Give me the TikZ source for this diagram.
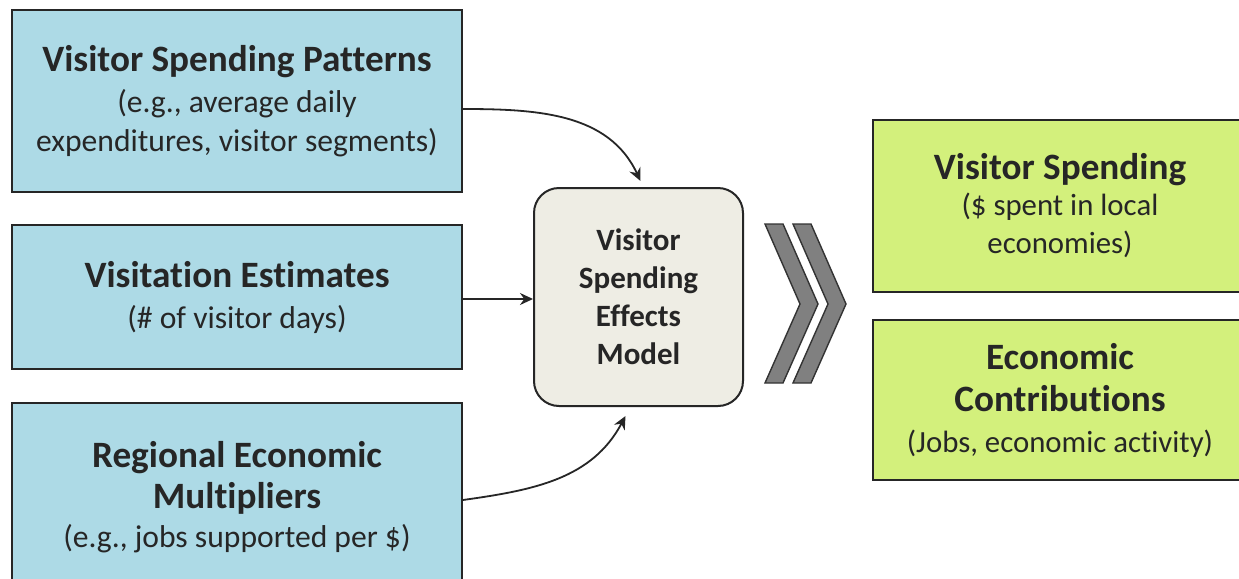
\documentclass[tikz,border=0pt]{standalone}
\usepackage{fontspec}
\setmainfont{Carlito}[Ligatures=NoCommon]
\usetikzlibrary{arrows.meta}
\definecolor{boxblue}{HTML}{ADDAE6}
\definecolor{boxgreen}{HTML}{D3F07C}
\definecolor{boxbeige}{HTML}{EEEDE4}
\definecolor{chevgray}{HTML}{808080}
\tikzset{
  inbox/.style={draw=black!85, line width=1pt, fill=boxblue, minimum width=225pt, align=center, inner sep=0pt,
    font=\fontsize{15.8}{19.5}\selectfont, text=black!85},
  outbox/.style={draw=black!85, line width=1pt, fill=boxgreen, minimum width=187pt, align=center, inner sep=0pt,
    font=\fontsize{15.4}{19}\selectfont, text=black!85},
  modelbox/.style={draw=black!85, line width=1pt, fill=boxbeige, rounded corners=12.5pt, minimum width=104.5pt,
    minimum height=109pt, align=center, inner sep=0pt, font=\fontsize{15.5}{19}\selectfont\bfseries, text=black!85},
  flow/.style={line width=0.9pt, draw=black!85, -{Stealth[length=6.5pt,width=6pt]}},
  chev/.style={fill=chevgray, draw=black!80, line width=0.7pt, line join=miter},
}
\newcommand{\ttl}[1]{{\fontsize{18.6}{20}\selectfont\bfseries #1}}
\begin{document}
\begin{tikzpicture}[x=0.5pt,y=-0.5pt]
\clip (0,0) rectangle (1239,579);
\fill[white] (0,0) rectangle (1239,579);

\node[inbox, minimum height=91pt] (b1) at (237,101)
  {\ttl{Visitor Spending Patterns}\\[1pt](e.g., average daily\\expenditures, visitor segments)};
\node[inbox, minimum height=72pt] (b2) at (237,297)
  {\ttl{Visitation Estimates}\\[1pt](\# of visitor days)};
\node[inbox, minimum height=94pt] (b3) at (237,497)
  {\ttl{Regional Economic}\\[1pt]\ttl{Multipliers}\\[0pt](e.g., jobs supported per \$)};

\node[modelbox] (m) at (638.5,297) {Visitor\\Spending\\Effects\\Model};

\node[outbox, minimum height=86pt] (g1) at (1060,206)
  {\ttl{Visitor Spending}\\[-1pt](\$ spent in local\\economies)};
\node[outbox, minimum height=80pt] (g2) at (1060,400)
  {\ttl{Economic}\\[2pt]\ttl{Contributions}\\[1.5pt](Jobs, economic activity)};

\draw[flow] ([yshift=-4pt]b1.east) to[out=0, in=115] ([xshift=1pt,yshift=3pt]m.north);
\draw[flow] ([yshift=-1pt]b2.east) -- ([yshift=-1pt]m.west);
\draw[flow] ([yshift=-1.5pt]b3.east) to[out=8, in=-118] ([xshift=-6.5pt,yshift=-4.5pt]m.south);

\draw[chev] (765,224) -- (783,224) -- (818,304) -- (783,383) -- (765,383) -- (800,304) -- cycle;
\draw[chev] (793,224) -- (811,224) -- (846,304) -- (811,383) -- (793,383) -- (828,304) -- cycle;
\end{tikzpicture}
\end{document}
